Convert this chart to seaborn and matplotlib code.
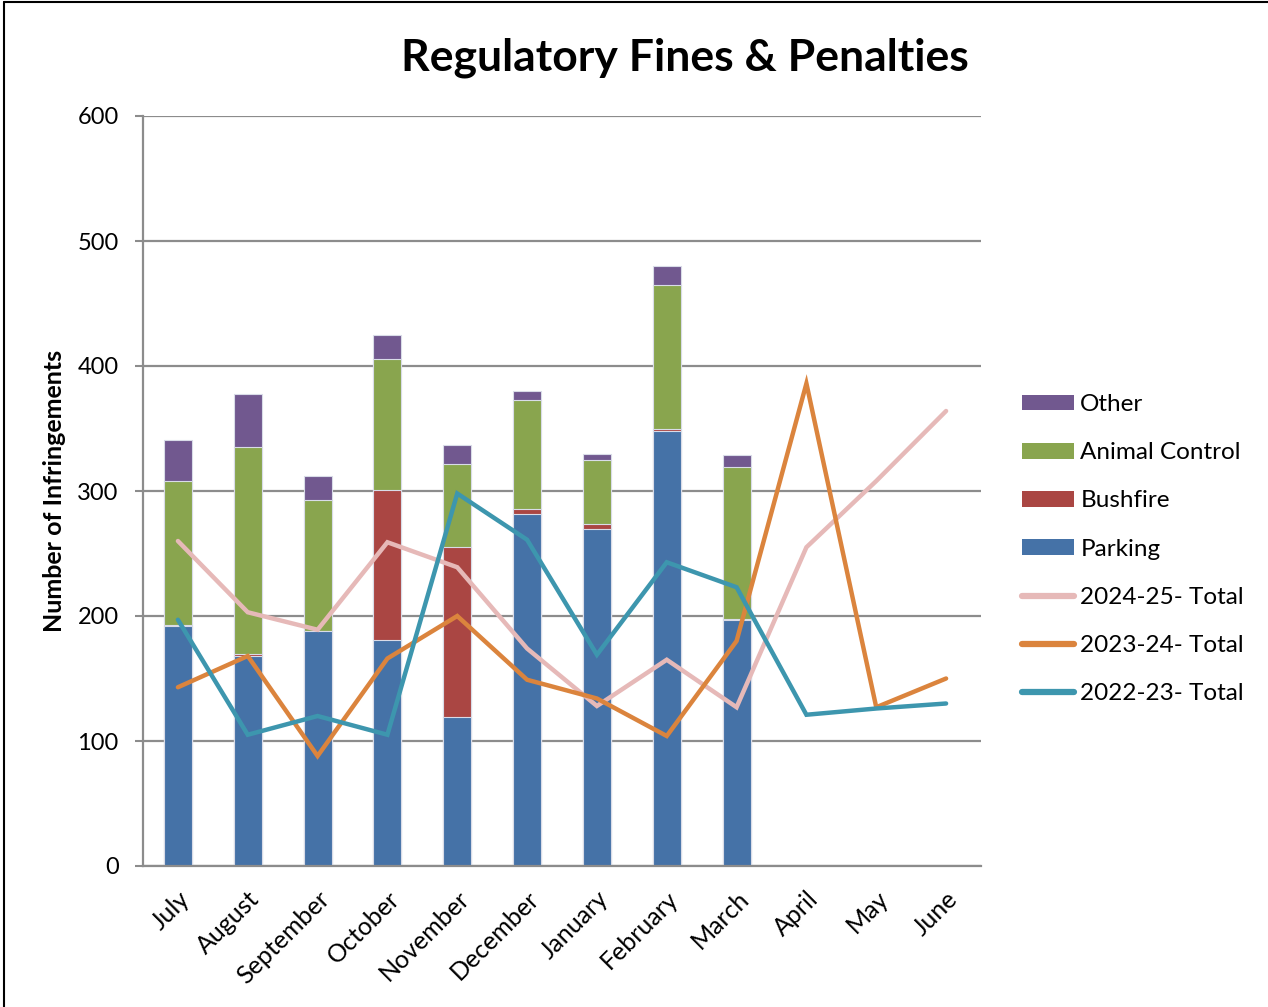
import numpy as np
import pandas as pd
import matplotlib
matplotlib.use("Agg")
import matplotlib.pyplot as plt
from matplotlib.patches import Patch
from matplotlib.lines import Line2D
import seaborn as sns

# ---- data ----
months = ["July", "August", "September", "October", "November", "December",
          "January", "February", "March", "April", "May", "June"]
bar_months = months[:9]

parking = [192, 168, 188, 181, 119, 282, 270, 348, 197]
bushfire = [1, 2, 0, 120, 136, 4, 4, 2, 1]
animal_control = [115, 165, 105, 105, 67, 87, 51, 115, 121]
other = [33, 43, 19, 19, 15, 7, 5, 15, 10]

total_2024_25 = [260, 203, 189, 259, 239, 174, 128, 165, 127, 255, 308, 364]
total_2023_24 = [143, 168, 88, 166, 200, 149, 134, 104, 180, 386, 127, 150]
total_2022_23 = [197, 105, 120, 105, 298, 261, 169, 243, 223, 121, 126, 130]

yticks = [0, 100, 200, 300, 400, 500, 600]

# ---- styling ----
sns.set_style("white")
plt.rcParams["font.family"] = ["Lato", "DejaVu Sans"]
plt.rcParams["text.color"] = "black"
plt.rcParams["axes.labelcolor"] = "black"
plt.rcParams["xtick.labelcolor"] = "black"
plt.rcParams["ytick.labelcolor"] = "black"

C_PARKING = "#4572A7"
C_BUSHFIRE = "#AA4643"
C_ANIMAL = "#89A54E"
C_OTHER = "#71588F"
C_2425 = "#E6B9B8"
C_2324 = "#DB843D"
C_2223 = "#3D96AE"
GRID = "#8C8C8C"

fig = plt.figure(figsize=(12.68, 10.07), dpi=100)
ax = fig.add_axes([143 / 1268, 1 - 866 / 1007, (981 - 143) / 1268, (866 - 116) / 1007])

df = pd.DataFrame({
    "month": bar_months,
    "parking": parking,
    "bushfire": bushfire,
    "animal": animal_control,
    "other": other,
})
df["lvl_bush"] = df["parking"] + df["bushfire"]
df["lvl_animal"] = df["lvl_bush"] + df["animal"]
df["lvl_other"] = df["lvl_animal"] + df["other"]

# stacked columns: draw cumulative heights from the top layer down
for col, colr in [("lvl_other", C_OTHER), ("lvl_animal", C_ANIMAL),
                  ("lvl_bush", C_BUSHFIRE), ("parking", C_PARKING)]:
    sns.barplot(data=df, x="month", y=col, order=months, color=colr,
                saturation=1, width=0.4, errorbar=None,
                edgecolor="#D9DCE8", linewidth=0.8, ax=ax, zorder=2)

xpos = np.arange(len(months))
for vals, colr in [(total_2024_25, C_2425), (total_2023_24, C_2324), (total_2022_23, C_2223)]:
    sns.lineplot(x=xpos, y=vals, color=colr, linewidth=3.2, ax=ax,
                 sort=False, zorder=3, solid_capstyle="round",
                 solid_joinstyle="miter")

ax.set_xlim(-0.5, len(months) - 0.5)
ax.set_ylim(0, 600)
ax.set_yticks(yticks)
ax.set_yticklabels([str(v) for v in yticks], fontsize=17)
ax.yaxis.grid(True, color=GRID, linewidth=1.6, zorder=0)
ax.set_axisbelow(True)

ax.set_xticks(xpos)
ax.set_xticklabels(months, rotation=45, ha="right", va="top",
                   rotation_mode="anchor", fontsize=18)
ax.set_xticks(np.arange(-0.5, len(months)), minor=True)
ax.tick_params(axis="x", which="major", length=0, pad=15)
ax.tick_params(axis="x", which="minor", length=5.5, width=1.5, color=GRID, direction="out")
ax.tick_params(axis="y", which="major", length=5.5, width=1.5, color=GRID,
               direction="out", pad=12, left=True)
ax.set_xlabel("")
ax.set_ylabel("")

for s in ["top", "right"]:
    ax.spines[s].set_visible(False)
for s in ["left", "bottom"]:
    ax.spines[s].set_color(GRID)
    ax.spines[s].set_linewidth(1.6)

fig.text(685 / 1268, 1 - 58 / 1007, "Regulatory Fines & Penalties",
         ha="center", va="center", fontsize=32, fontweight="bold")
fig.text(55 / 1268, 1 - 491 / 1007, "Number of Infringements",
         ha="center", va="center", rotation=90, fontsize=18, fontweight="bold")

handles = [
    Patch(facecolor=C_OTHER, edgecolor="none", label="Other"),
    Patch(facecolor=C_ANIMAL, edgecolor="none", label="Animal Control"),
    Patch(facecolor=C_BUSHFIRE, edgecolor="none", label="Bushfire"),
    Patch(facecolor=C_PARKING, edgecolor="none", label="Parking"),
    Line2D([], [], color=C_2425, linewidth=4.5, solid_capstyle="round", label="2024-25- Total"),
    Line2D([], [], color=C_2324, linewidth=4.5, solid_capstyle="round", label="2023-24- Total"),
    Line2D([], [], color=C_2223, linewidth=4.5, solid_capstyle="round", label="2022-23- Total"),
]
fig.legend(handles=handles, loc="upper left",
           bbox_to_anchor=(1022 / 1268, 1 - 394 / 1007),
           frameon=False, fontsize=17.5, handlelength=2.15, handleheight=0.62,
           handletextpad=0.25, labelspacing=1.12, borderpad=0, borderaxespad=0)

# outer frame
fig.add_artist(Line2D([4 / 1268, 4 / 1268], [0, 1 - 1.5 / 1007],
                      transform=fig.transFigure, color="black", linewidth=1.5))
fig.add_artist(Line2D([4 / 1268, 1], [1 - 1.5 / 1007, 1 - 1.5 / 1007],
                      transform=fig.transFigure, color="black", linewidth=1.5))

fig.savefig("out.png", dpi=100)
